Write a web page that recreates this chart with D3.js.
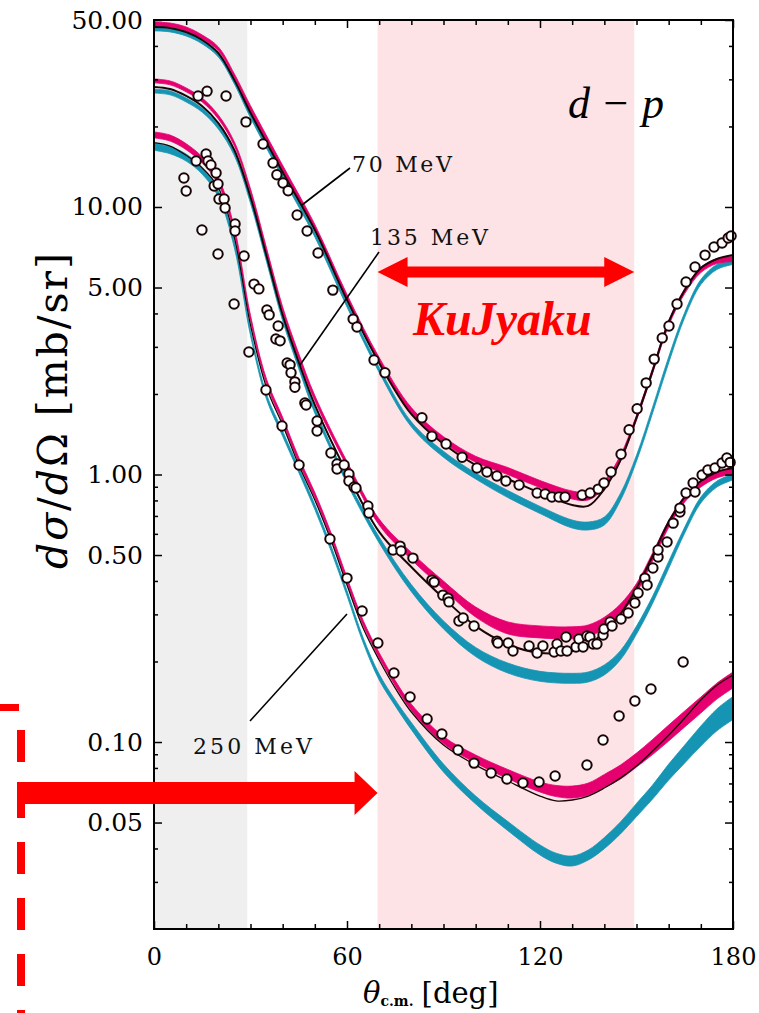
<!DOCTYPE html>
<html>
<head>
<meta charset="utf-8">
<script src="https://cdn.jsdelivr.net/npm/d3@7"></script>
<style>
  body { margin: 0; background: #fff; }
  svg { display: block; }
</style>
</head>
<body>
<div id="chart"></div>
<script>
// Canvas
const width = 759;
const height = 1013;
const plot = { left: 154, right: 733, top: 20, bottom: 929 };

// Shaded angular ranges [deg]
const regionForward = [0, 29];
const regionKuJyaku = [69.5, 149.3];

// Axis ticks
const xMajor = [0, 60, 120, 180];
const xMinor = [10, 20, 30, 40, 50, 70, 80, 90, 100, 110, 130, 140, 150, 160, 170];
const yMajor = [50, 10, 5, 1, 0.5, 0.1, 0.05];
const yMinor = [40, 30, 20, 4, 3, 2, 0.9, 0.8, 0.7, 0.6, 0.4, 0.3, 0.2, 0.09, 0.08, 0.07, 0.06, 0.04, 0.03];

// 70 MeV theory curves (black line, pink band, cyan band) and band spreads (ratio)
const angles70 = [0, 5, 10, 15, 20, 25, 30, 40, 50, 60, 70, 80, 90, 100, 110, 120, 130, 135, 140, 145, 150, 155, 160, 165, 170, 175, 180];
const black70 = [47.1, 46.7, 45.1, 42.1, 37.6, 29.8, 22.5, 13.5, 8.20, 4.49, 2.61, 1.68, 1.30, 1.085, 0.962, 0.853, 0.769, 0.763, 0.882, 1.13, 1.63, 2.44, 3.72, 4.89, 5.91, 6.39, 6.61];
const pink70 = [48.3, 47.9, 46.3, 43.2, 39.0, 30.9, 23.4, 14.0, 8.42, 4.61, 2.68, 1.74, 1.35, 1.14, 1.03, 0.921, 0.838, 0.831, 0.921, 1.15, 1.63, 2.44, 3.68, 4.85, 5.81, 6.28, 6.39];
const pink70Spread = [1.017, 1.017, 1.017, 1.017, 1.017, 1.017, 1.022, 1.022, 1.022, 1.022, 1.022, 1.022, 1.026, 1.026, 1.031, 1.031, 1.035, 1.035, 1.031, 1.026, 1.022, 1.022, 1.022, 1.022, 1.022, 1.022, 1.022];
const cyan70 = [46.3, 45.9, 44.3, 41.4, 37.0, 29.3, 21.9, 13.05, 7.86, 4.30, 2.46, 1.54, 1.19, 0.987, 0.845, 0.737, 0.653, 0.642, 0.670, 0.824, 1.15, 1.74, 2.68, 3.95, 5.24, 5.97, 6.23];
const cyan70Spread = [1.017, 1.017, 1.017, 1.017, 1.017, 1.017, 1.017, 1.017, 1.017, 1.017, 1.022, 1.022, 1.026, 1.026, 1.031, 1.031, 1.035, 1.035, 1.035, 1.031, 1.026, 1.026, 1.026, 1.022, 1.022, 1.022, 1.022];

// 135 MeV
const angles135 = [0, 5, 10, 15, 20, 25, 30, 35, 40, 45, 50, 60, 70, 80, 90, 100, 110, 120, 130, 135, 140, 145, 150, 155, 160, 165, 170, 175, 180];
const black135 = [28.1, 27.6, 26.0, 23.8, 20.6, 16.3, 10.9, 6.56, 3.95, 2.63, 1.82, 1.013, 0.610, 0.451, 0.345, 0.271, 0.232, 0.215, 0.219, 0.231, 0.258, 0.301, 0.376, 0.496, 0.664, 0.824, 0.945, 1.022, 1.057];
const pink135 = [29.6, 29.1, 27.4, 25.1, 21.7, 17.2, 11.5, 6.90, 4.16, 2.77, 1.93, 1.094, 0.664, 0.496, 0.386, 0.306, 0.267, 0.258, 0.256, 0.260, 0.279, 0.314, 0.376, 0.492, 0.653, 0.810, 0.921, 0.996, 1.030];
const pink135Spread = [1.017, 1.017, 1.017, 1.017, 1.017, 1.017, 1.017, 1.017, 1.017, 1.022, 1.022, 1.022, 1.026, 1.031, 1.035, 1.044, 1.053, 1.053, 1.053, 1.053, 1.049, 1.044, 1.040, 1.035, 1.031, 1.026, 1.026, 1.026, 1.026];
const cyan135 = [27.1, 26.7, 25.1, 23.0, 19.9, 15.8, 10.5, 6.34, 3.81, 2.54, 1.73, 0.945, 0.569, 0.376, 0.274, 0.217, 0.189, 0.176, 0.173, 0.175, 0.186, 0.211, 0.262, 0.340, 0.459, 0.620, 0.803, 0.921, 0.979];
const cyan135Spread = [1.017, 1.017, 1.017, 1.017, 1.017, 1.017, 1.017, 1.017, 1.017, 1.022, 1.022, 1.022, 1.026, 1.031, 1.035, 1.040, 1.044, 1.044, 1.044, 1.044, 1.044, 1.040, 1.035, 1.031, 1.031, 1.026, 1.026, 1.026, 1.026];

// 250 MeV
const angles250 = [0, 5, 10, 15, 20, 25, 30, 35, 40, 45, 50, 55, 60, 65, 70, 75, 80, 90, 100, 110, 120, 125, 130, 135, 140, 145, 150, 155, 160, 165, 170, 175, 180];
const black250 = [17.4, 16.9, 15.6, 14.0, 11.8, 7.66, 3.62, 2.11, 1.53, 1.085, 0.803, 0.569, 0.386, 0.267, 0.2025, 0.159, 0.1295, 0.0974, 0.0820, 0.0715, 0.0628, 0.0602, 0.0607, 0.0628, 0.0673, 0.0733, 0.0813, 0.0925, 0.106, 0.123, 0.1435, 0.163, 0.178];
const pink250 = [18.6, 18.1, 16.8, 15.0, 12.5, 8.13, 3.85, 2.22, 1.60, 1.133, 0.838, 0.594, 0.403, 0.279, 0.211, 0.166, 0.135, 0.1017, 0.0864, 0.0759, 0.0679, 0.0656, 0.0650, 0.0667, 0.0715, 0.0772, 0.0856, 0.0958, 0.108, 0.122, 0.1375, 0.155, 0.1705];
const pink250Spread = [1.026, 1.026, 1.026, 1.026, 1.026, 1.026, 1.022, 1.022, 1.022, 1.022, 1.022, 1.022, 1.022, 1.022, 1.022, 1.022, 1.026, 1.031, 1.035, 1.040, 1.044, 1.049, 1.053, 1.053, 1.058, 1.062, 1.062, 1.067, 1.071, 1.071, 1.071, 1.071, 1.071];
const cyan250 = [16.8, 16.3, 15.3, 13.6, 11.2, 7.21, 3.38, 1.95, 1.42, 1.039, 0.756, 0.531, 0.360, 0.2405, 0.175, 0.140, 0.1147, 0.0799, 0.0607, 0.0485, 0.0395, 0.0368, 0.0359, 0.0378, 0.0419, 0.0477, 0.0557, 0.0650, 0.0772, 0.0902, 0.1053, 0.121, 0.134];
const cyan250Spread = [1.031, 1.031, 1.031, 1.026, 1.026, 1.026, 1.022, 1.022, 1.022, 1.022, 1.022, 1.022, 1.022, 1.022, 1.026, 1.026, 1.031, 1.035, 1.035, 1.040, 1.044, 1.044, 1.044, 1.044, 1.049, 1.053, 1.058, 1.062, 1.071, 1.080, 1.090, 1.099, 1.104];

// Measured cross sections [angle, mb/sr]
const data70 = [[13.7, 26.0], [16.5, 27.1], [22.4, 26.0], [28.6, 20.8], [33.9, 17.2], [37.0, 14.6], [38.2, 13.2], [40.1, 12.3], [41.7, 11.5], [44.5, 9.33], [47.6, 8.13], [51.0, 6.73], [55.6, 4.89], [61.9, 3.81], [63.1, 3.56], [68.4, 2.68], [71.8, 2.40], [83.3, 1.63], [86.4, 1.39], [90.8, 1.30], [95.8, 1.16], [100.4, 1.057], [103.5, 1.022], [106.6, 0.987], [109.4, 0.945], [113.5, 0.913], [119.1, 0.853], [121.6, 0.845], [123.7, 0.824], [125.9, 0.824], [127.8, 0.824], [133.1, 0.838], [135.6, 0.853], [138.1, 0.882], [139.9, 0.929], [142.1, 1.022], [145.2, 1.19], [147.7, 1.47], [150.2, 1.76], [153.0, 2.20], [155.5, 2.70], [158.0, 3.24], [160.1, 3.59], [162.6, 4.34], [165.4, 5.24], [168.2, 5.97], [171.3, 6.61], [174.1, 7.09], [176.6, 7.33], [178.5, 7.66], [179.4, 7.79]];

const data135 = [[13.1, 14.86], [16.2, 15.78], [16.8, 14.86], [17.7, 14.35], [19.3, 13.40], [18.7, 11.98], [19.9, 12.19], [20.2, 10.71], [21.8, 10.71], [22.1, 9.91], [25.2, 8.64], [25.2, 8.13], [28.0, 6.56], [31.1, 5.15], [32.6, 4.94], [35.1, 4.12], [35.8, 3.95], [38.6, 3.59], [37.9, 3.21], [39.2, 3.16], [41.4, 2.61], [42.3, 2.57], [42.6, 2.40], [43.8, 2.22], [43.8, 2.12], [46.9, 1.85], [47.3, 1.82], [50.7, 1.585], [50.7, 1.454], [55.0, 1.203], [56.9, 1.094], [56.9, 1.048], [59.1, 1.085], [60.6, 1.004], [60.6, 0.945], [62.2, 0.898], [62.8, 0.890], [66.5, 0.763], [66.8, 0.718], [74.3, 0.522], [76.5, 0.540], [76.8, 0.518], [80.5, 0.487], [86.4, 0.403], [87.1, 0.396], [89.8, 0.354], [91.4, 0.345], [91.7, 0.334], [94.8, 0.2834], [96.1, 0.2908], [99.5, 0.2714], [106.6, 0.2384], [106.9, 0.2344], [110.1, 0.2344], [111.6, 0.2188], [116.6, 0.2284], [119.1, 0.2151], [120.9, 0.2284], [124.4, 0.2170], [125.3, 0.2324], [126.5, 0.2188], [128.4, 0.2188], [128.1, 0.2469], [131.2, 0.2265], [132.1, 0.2427], [133.4, 0.2265], [134.6, 0.2490], [135.5, 0.2469], [136.5, 0.2324], [137.7, 0.2324], [139.6, 0.2512], [139.9, 0.2645], [141.8, 0.2809], [142.4, 0.2714], [145.2, 0.2882], [147.4, 0.3035], [149.5, 0.3309], [150.5, 0.3604], [152.6, 0.410], [153.3, 0.386], [155.1, 0.447], [156.7, 0.4915], [156.7, 0.522], [159.5, 0.559], [161.4, 0.658], [163.5, 0.724], [163.5, 0.749], [165.4, 0.853], [167.6, 0.929], [168.2, 0.860], [170.4, 0.996], [172.2, 1.039], [174.4, 1.057], [176.6, 1.104], [178.1, 1.152], [179.1, 1.11]];

const data250 = [[9.3, 12.83], [10.0, 11.47], [14.9, 8.20], [19.9, 6.67], [24.9, 4.34], [29.5, 2.87], [34.8, 2.07], [39.8, 1.518], [45.1, 1.085], [54.7, 0.574], [60.0, 0.410], [64.7, 0.309], [69.6, 0.2344], [74.6, 0.1811], [79.6, 0.1474], [84.9, 0.1219], [89.5, 0.1071], [94.5, 0.0933], [99.5, 0.0834], [104.8, 0.0766], [109.7, 0.0727], [114.7, 0.0703], [119.7, 0.0709], [124.7, 0.0746], [134.6, 0.0820], [139.6, 0.1017], [144.6, 0.1251], [149.5, 0.1423], [154.5, 0.1578], [164.5, 0.1991]];

// Colours
const pinkColor = "#e6006f";
const cyanColor = "#1595b3";
const lineColor = "#1a0606";
const serif = "'DejaVu Serif', serif";

// Scales
const x = d3.scaleLinear().domain([0, 180]).range([plot.left, plot.right]);
const y = d3.scaleLog().domain([0.02, 50]).range([plot.bottom, plot.top]);

const svg = d3.select("#chart")
    .append("svg")
    .attr("width", width)
    .attr("height", height);

svg.append("defs").append("clipPath")
    .attr("id", "plot-clip")
    .append("rect")
    .attr("x", plot.left)
    .attr("y", plot.top)
    .attr("width", plot.right - plot.left)
    .attr("height", plot.bottom - plot.top);

// Shaded regions
svg.append("rect")
    .attr("x", x(regionForward[0]))
    .attr("y", plot.top)
    .attr("width", x(regionForward[1]) - x(regionForward[0]))
    .attr("height", plot.bottom - plot.top)
    .attr("fill", "#efefef");

svg.append("rect")
    .attr("x", x(regionKuJyaku[0]))
    .attr("y", plot.top)
    .attr("width", x(regionKuJyaku[1]) - x(regionKuJyaku[0]))
    .attr("height", plot.bottom - plot.top)
    .attr("fill", "#fde3e5");

// Build series
function band(angles, values, spread) {
    return angles.map((a, i) => ({ a, lo: values[i] / spread[i], hi: values[i] * spread[i] }));
}
function line(angles, values) {
    return angles.map((a, i) => ({ a, v: values[i] }));
}

const bands = [
    { pts: band(angles70, cyan70, cyan70Spread), color: cyanColor },
    { pts: band(angles135, cyan135, cyan135Spread), color: cyanColor },
    { pts: band(angles250, cyan250, cyan250Spread), color: cyanColor },
    { pts: band(angles70, pink70, pink70Spread), color: pinkColor },
    { pts: band(angles135, pink135, pink135Spread), color: pinkColor },
    { pts: band(angles250, pink250, pink250Spread), color: pinkColor }
];
const lines = [
    { pts: line(angles70, black70), w: 2 },
    { pts: line(angles135, black135), w: 2 },
    { pts: line(angles250, black250), w: 1.3 }
];

const area = d3.area()
    .x(d => x(d.a))
    .y0(d => y(d.lo))
    .y1(d => y(d.hi))
    .curve(d3.curveCatmullRom);

const path = d3.line()
    .x(d => x(d.a))
    .y(d => y(d.v))
    .curve(d3.curveCatmullRom);

const curves = svg.append("g").attr("clip-path", "url(#plot-clip)");

curves.selectAll(".band")
    .data(bands)
    .join("path")
    .attr("class", "band")
    .attr("d", d => area(d.pts))
    .attr("fill", d => d.color)
    .attr("stroke", d => d.color)
    .attr("stroke-width", 0.8);

curves.selectAll(".theory")
    .data(lines)
    .join("path")
    .attr("class", "theory")
    .attr("d", d => path(d.pts))
    .attr("fill", "none")
    .attr("stroke", lineColor)
    .attr("stroke-width", d => d.w);

// Data points
const allData = data70.concat(data135, data250);
svg.append("g")
    .selectAll("circle")
    .data(allData)
    .join("circle")
    .attr("cx", d => x(d[0]))
    .attr("cy", d => y(d[1]))
    .attr("r", 4.7)
    .attr("fill", "#fff")
    .attr("stroke", lineColor)
    .attr("stroke-width", 2);

// Axes
function styleAxis(size) {
    return g => {
        g.select(".domain").remove();
        g.selectAll("line").attr("stroke", "#000").attr("stroke-width", 1.5);
        g.selectAll("text")
            .attr("fill", "#000")
            .attr("font-family", serif)
            .attr("font-size", size);
    };
}

svg.append("g")
    .attr("transform", `translate(${plot.left},0)`)
    .call(d3.axisLeft(y).tickValues(yMajor).tickSize(-8).tickPadding(11).tickFormat(d3.format(".2f")))
    .call(styleAxis(25));
svg.append("g")
    .attr("transform", `translate(${plot.left},0)`)
    .call(d3.axisLeft(y).tickValues(yMinor).tickSize(-4).tickFormat(""))
    .call(styleAxis(10));
svg.append("g")
    .attr("transform", `translate(${plot.right},0)`)
    .call(d3.axisRight(y).tickValues(yMajor).tickSize(-8).tickFormat(""))
    .call(styleAxis(10));
svg.append("g")
    .attr("transform", `translate(${plot.right},0)`)
    .call(d3.axisRight(y).tickValues(yMinor).tickSize(-4).tickFormat(""))
    .call(styleAxis(10));

svg.append("g")
    .attr("transform", `translate(0,${plot.bottom})`)
    .call(d3.axisBottom(x).tickValues(xMajor).tickSize(-8).tickPadding(19).tickFormat(d3.format("d")))
    .call(styleAxis(24));
svg.append("g")
    .attr("transform", `translate(0,${plot.bottom})`)
    .call(d3.axisBottom(x).tickValues(xMinor).tickSize(-5).tickFormat(""))
    .call(styleAxis(10));
svg.append("g")
    .attr("transform", `translate(0,${plot.top})`)
    .call(d3.axisTop(x).tickValues(xMajor).tickSize(-8).tickFormat(""))
    .call(styleAxis(10));
svg.append("g")
    .attr("transform", `translate(0,${plot.top})`)
    .call(d3.axisTop(x).tickValues(xMinor).tickSize(-5).tickFormat(""))
    .call(styleAxis(10));

// Frame
svg.append("rect")
    .attr("x", plot.left)
    .attr("y", plot.top)
    .attr("width", plot.right - plot.left)
    .attr("height", plot.bottom - plot.top)
    .attr("fill", "none")
    .attr("stroke", "#000")
    .attr("stroke-width", 2);

// Axis titles
const xTitle = svg.append("text")
    .attr("x", 363)
    .attr("y", 1003)
    .attr("font-family", serif)
    .attr("font-size", 29);
xTitle.append("tspan").attr("font-style", "italic").text("θ");
xTitle.append("tspan").attr("font-size", 14).attr("font-weight", "bold").attr("dy", 3).text("c.m.");
xTitle.append("tspan").attr("dy", -3).attr("dx", 8).text("[deg]");

const yTitle = svg.append("text")
    .attr("transform", "translate(67,411) rotate(-90)")
    .attr("text-anchor", "middle")
    .attr("font-family", serif)
    .attr("font-size", 41)
    .attr("textLength", 316)
    .attr("lengthAdjust", "spacing");
yTitle.append("tspan").attr("font-style", "italic").text("dσ");
yTitle.append("tspan").text("/");
yTitle.append("tspan").attr("font-style", "italic").text("d");
yTitle.append("tspan").text("Ω [mb/sr]");

// Energy labels with leader lines
const energyLabels = [
    { text: "70 MeV", x: 352, y: 172, len: 100, from: [302, 205], to: [350, 168] },
    { text: "135 MeV", x: 370, y: 245, len: 118, from: [300, 365], to: [379, 252] },
    { text: "250 MeV", x: 193, y: 754, len: 119, from: [250, 721], to: [347, 614] }
];
svg.append("g")
    .selectAll("line")
    .data(energyLabels)
    .join("line")
    .attr("x1", d => d.from[0])
    .attr("y1", d => d.from[1])
    .attr("x2", d => d.to[0])
    .attr("y2", d => d.to[1])
    .attr("stroke", "#000")
    .attr("stroke-width", 1.6);
svg.append("g")
    .selectAll("text")
    .data(energyLabels)
    .join("text")
    .attr("x", d => d.x)
    .attr("y", d => d.y)
    .attr("textLength", d => d.len)
    .attr("lengthAdjust", "spacing")
    .attr("font-family", serif)
    .attr("font-size", 22)
    .attr("fill", "#111")
    .text(d => d.text);

// Reaction label
const reaction = svg.append("text")
    .attr("x", 568)
    .attr("y", 118)
    .attr("font-family", "'Liberation Serif', serif")
    .attr("font-size", 44)
    .attr("textLength", 96)
    .attr("lengthAdjust", "spacing");
reaction.append("tspan").attr("font-style", "italic").text("d");
reaction.append("tspan").text("−");
reaction.append("tspan").attr("font-style", "italic").text("p");

// KuJyaku annotation
const red = "#ff0000";
svg.append("text")
    .attr("x", 413)
    .attr("y", 335)
    .attr("font-family", "'Liberation Serif', serif")
    .attr("font-weight", "bold")
    .attr("font-style", "italic")
    .attr("font-size", 48)
    .attr("fill", red)
    .text("KuJyaku");

const ax0 = x(regionKuJyaku[0]), ax1 = x(regionKuJyaku[1]), ay = 272;
svg.append("path")
    .attr("d", `M${ax0},${ay} L${ax0 + 30},${ay - 15} L${ax0 + 30},${ay - 5.5} L${ax1 - 30},${ay - 5.5} L${ax1 - 30},${ay - 15} L${ax1},${ay} L${ax1 - 30},${ay + 15} L${ax1 - 30},${ay + 5.5} L${ax0 + 30},${ay + 5.5} L${ax0 + 30},${ay + 15} Z`)
    .attr("fill", red);

// Lower-left arrow pointing into the KuJyaku range
const by = 793;
svg.append("path")
    .attr("d", `M17,${by - 11} L${ax0 - 23},${by - 11} L${ax0 - 23},${by - 22} L${ax0},${by} L${ax0 - 23},${by + 22} L${ax0 - 23},${by + 11} L17,${by + 11} Z`)
    .attr("fill", red);

// Dashed frame corner at the left edge
svg.append("line")
    .attr("x1", -12).attr("y1", 707.5).attr("x2", 19).attr("y2", 707.5)
    .attr("stroke", red).attr("stroke-width", 7);
svg.append("line")
    .attr("x1", 21).attr("y1", 730).attr("x2", 21).attr("y2", 1013)
    .attr("stroke", red).attr("stroke-width", 8)
    .attr("stroke-dasharray", "32,24");
</script>
</body>
</html>
